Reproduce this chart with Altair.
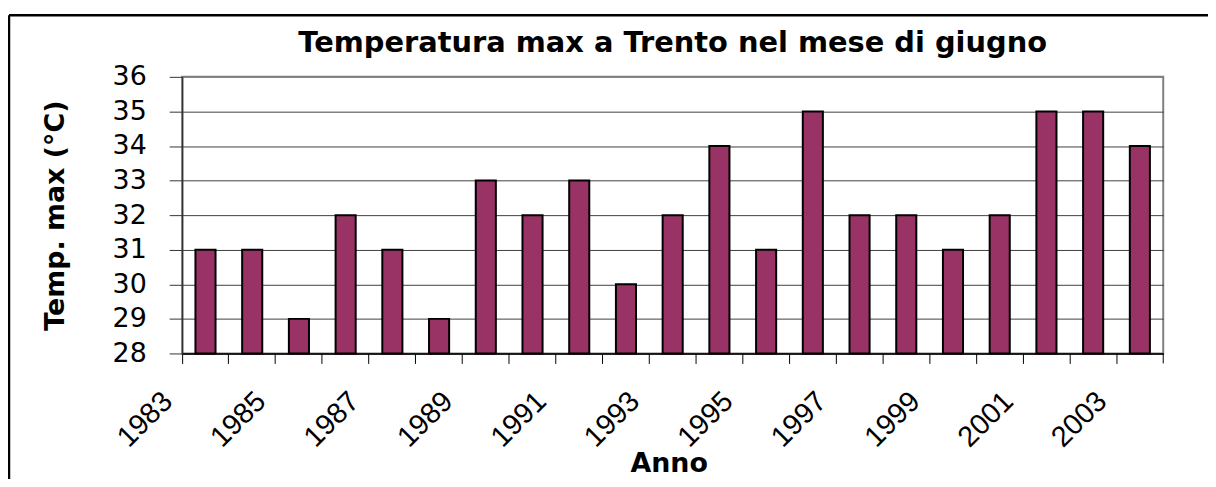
import altair as alt
import pandas as pd

# ---- data ----
YEARS = [1983, 1984, 1985, 1986, 1987, 1988, 1989, 1990, 1991, 1992, 1993,
         1994, 1995, 1996, 1997, 1998, 1999, 2000, 2001, 2002, 2003]
TEMPS = [31, 31, 29, 32, 31, 29, 33, 32, 33, 30, 32,
         34, 31, 35, 32, 32, 31, 32, 35, 35, 34]
LABELED_YEARS = [1983, 1985, 1987, 1989, 1991, 1993, 1995, 1997, 1999, 2001, 2003]
Y_TICKS = [28, 29, 30, 31, 32, 33, 34, 35, 36]
BASE = 28

TITLE = "Temperatura max a Trento  nel mese di giugno"
X_TITLE = "Anno"
Y_TITLE = "Temp. max (°C)"

df = pd.DataFrame({"Anno": YEARS, "Temp": TEMPS, "Base": [BASE] * len(YEARS)})

W, H = 986, 278

label_expr = "indexof([%s], datum.value) >= 0 ? datum.label : ''" % ",".join(
    str(v) for v in LABELED_YEARS)

bars = alt.Chart(df).mark_bar(
    width=alt.RelativeBandSize(0.43),
    fill="#993366",
    stroke="black",
    strokeWidth=2,
).encode(
    x=alt.X(
        "Anno:O",
        title=X_TITLE,
        scale=alt.Scale(paddingInner=0, paddingOuter=0),
        axis=alt.Axis(
            bandPosition=0,
            labelAngle=-45,
            labelAlign="right",
            labelBaseline="middle",
            labelPadding=33,
            labelOffset=-38,
            labelExpr=label_expr,
            labelFont="Liberation Sans",
            labelFontSize=29,
            labelColor="black",
            tickSize=10,
            tickColor="black",
            domainColor="black",
            domainWidth=1.5,
            grid=False,
            titleFont="DejaVu Sans",
            titleFontSize=27,
            titleFontWeight="bold",
            titleColor="black",
            titleX=489,
            titleY=119,
            titleAlign="center",
            titleBaseline="alphabetic",
        ),
    ),
    y=alt.Y(
        "Temp:Q",
        title=Y_TITLE,
        scale=alt.Scale(domain=[Y_TICKS[0], Y_TICKS[-1]], zero=False, nice=False),
        axis=alt.Axis(
            values=Y_TICKS,
            format="d",
            labelFont="DejaVu Sans",
            labelFontSize=27,
            labelColor="black",
            labelPadding=23,
            tickSize=13,
            tickColor="#333333",
            domainColor="#333333",
            domainWidth=1.5,
            grid=True,
            gridColor={"condition": {"test": "datum.value === 36", "value": "#808080"},
                       "value": "#404040"},
            gridWidth=1,
            titleFont="DejaVu Sans",
            titleFontSize=27,
            titleFontWeight="bold",
            titleColor="black",
            titleX=-119,
            titleY=H / 2,
            titleAlign="center",
            titleBaseline="alphabetic",
        ),
    ),
    y2=alt.Y2("Base:Q"),
)

deco = alt.Data(values=[{"k": 0}])
frame_top = alt.Chart(deco).mark_rule(color="black", strokeWidth=2.5).encode(
    x=alt.value(-174), x2=alt.value(1100), y=alt.value(-62))
frame_left = alt.Chart(deco).mark_rule(color="black", strokeWidth=2.5).encode(
    x=alt.value(-174), y=alt.value(-62), y2=alt.value(500))
last_tick = alt.Chart(deco).mark_rule(color="black", strokeWidth=1).encode(
    x=alt.value(W), y=alt.value(H), y2=alt.value(H + 10))

chart = alt.layer(bars, last_tick, frame_top, frame_left).properties(
    width=W,
    height=H,
    title=alt.TitleParams(
        text=TITLE,
        font="DejaVu Sans",
        fontSize=29,
        fontWeight="bold",
        color="black",
        anchor="middle",
        baseline="alphabetic",
        offset=0,
        dy=67,
    ),
    autosize=alt.AutoSizeParams(type="none"),
    padding={"left": 175, "top": 68, "right": 45, "bottom": 125},
    background="white",
).configure_view(
    stroke="#808080",
    strokeWidth=2,
)

chart.save("out.html", embed_options={"renderer": "svg", "actions": False})
